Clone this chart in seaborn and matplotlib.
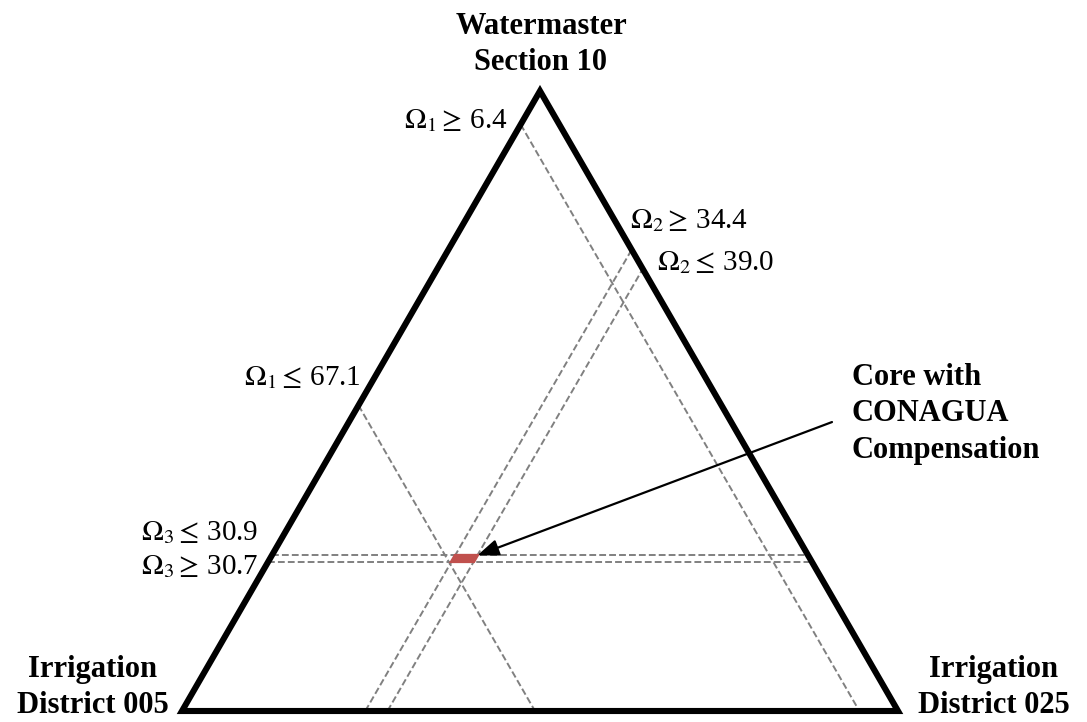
import numpy as np
import pandas as pd
import seaborn as sns
import matplotlib.pyplot as plt
from matplotlib.patches import Polygon

# corner names: bottom-left, bottom-right, top
corner_labels = ['Irrigation\nDistrict 005', 'Irrigation\nDistrict 025', 'Watermaster\nSection 10']

# constraint labels and the share of the triangle where each dashed line sits (as drawn)
omega1_text = [r'$\Omega_1{\geq}\,$6.4', r'$\Omega_1{\leq}\,$67.1']
omega1_pos = [0.054, 0.507]
omega2_text = [r'$\Omega_2{\geq}\,$34.4', r'$\Omega_2{\leq}\,$39.0']
omega2_pos = [0.256, 0.287]
omega3_text = [r'$\Omega_3{\leq}\,$30.9', r'$\Omega_3{\geq}\,$30.7']
omega3_pos = [0.251, 0.241]

core_label = 'Core with\nCONAGUA\nCompensation'
core_color = '#C0504D'

sns.set_theme(style='white')
plt.rcParams['font.family'] = ['Liberation Serif', 'DejaVu Serif']
plt.rcParams['mathtext.fontset'] = 'stix'
plt.rcParams['text.color'] = 'black'

H = np.sqrt(3) / 2


def tern(a, b, c):
    # a = bottom-left share, b = bottom-right share, c = top share
    return b + c / 2, c * H


# dashed constraint lines, from side to side
rows = []
ends = []
for i, a in enumerate(omega1_pos):
    p, q = tern(a, 0, 1 - a), tern(a, 1 - a, 0)
    rows += [('o1_%d' % i, *p), ('o1_%d' % i, *q)]
    ends.append(p)
for i, b in enumerate(omega2_pos):
    p, q = tern(1 - b, b, 0), tern(0, b, 1 - b)
    rows += [('o2_%d' % i, *p), ('o2_%d' % i, *q)]
    ends.append(q)
for i, c in enumerate(omega3_pos):
    p, q = tern(1 - c, 0, c), tern(0, 1 - c, c)
    rows += [('o3_%d' % i, *p), ('o3_%d' % i, *q)]
    ends.append(p)
lines = pd.DataFrame(rows, columns=['line', 'x', 'y'])

fig = plt.figure(figsize=(10.87, 7.22), dpi=100)
ax = fig.add_axes([182 / 1087, 11 / 722, 716 / 1087, 620 / 722])

sns.lineplot(data=lines, x='x', y='y', units='line', estimator=None, sort=False,
             color='#808080', lw=1.4, linestyle=(0, (3.5, 1.6)), ax=ax)

# core region = overlap of the omega2 and omega3 bands
core = [tern(1 - b - c, b, c) for b, c in
        [(omega2_pos[0], omega3_pos[1]), (omega2_pos[1], omega3_pos[1]),
         (omega2_pos[1], omega3_pos[0]), (omega2_pos[0], omega3_pos[0])]]
ax.add_patch(Polygon(core, closed=True, fc=core_color, ec=core_color, lw=2.2, zorder=3))

corners = [tern(1, 0, 0), tern(0, 1, 0), tern(0, 0, 1)]
ax.add_patch(Polygon(corners, closed=True, fill=False, ec='black', lw=4.4,
                     joinstyle='miter', clip_on=False, zorder=4))

# constraint labels next to the line ends
labels = omega1_text + omega2_text + omega3_text
offsets = [(-13, -4), (2, 20), (-2, 22), (14, -1), (-14, 15), (-10, -13)]
aligns = ['right', 'right', 'left', 'left', 'right', 'right']
for txt, p, off, ha in zip(labels, ends, offsets, aligns):
    ax.annotate(txt, xy=p, xytext=off, textcoords='offset pixels', ha=ha, va='baseline',
                fontsize=21, color='black', annotation_clip=False)

# corner names (baseline = last line)
corner_offsets = [(-89, -2), (96, -2), (1, 21)]
for txt, p, off in zip(corner_labels, corners, corner_offsets):
    ax.annotate(txt, xy=p, xytext=off, textcoords='offset pixels', ha='center',
                va='baseline', multialignment='center', linespacing=1.3,
                fontsize=22, fontweight='bold', color='black', annotation_clip=False)

# arrow to the core region
tail = (0.9078, 0.4036)
ax.annotate('', xy=core[2], xytext=tail, annotation_clip=False,
            arrowprops=dict(arrowstyle='-|>,head_length=1.3,head_width=0.5',
                            mutation_scale=10, lw=1.6, color='black',
                            shrinkA=0, shrinkB=0))
ax.annotate(core_label, xy=tail, xytext=(20, -36), textcoords='offset pixels',
            ha='left', va='baseline', linespacing=1.35, fontsize=22, fontweight='bold',
            color='black', annotation_clip=False)

ax.set_xlim(0, 1)
ax.set_ylim(0, H)
ax.axis('off')

fig.savefig('out.png', dpi=100)
